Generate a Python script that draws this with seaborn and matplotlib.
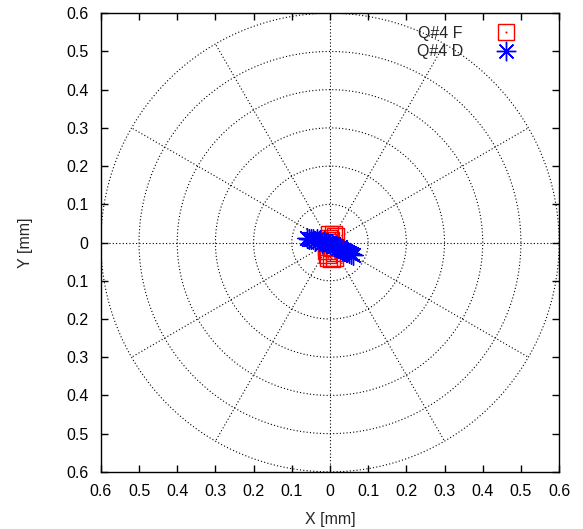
import numpy as np
import pandas as pd
import matplotlib
matplotlib.use("Agg")
import matplotlib.pyplot as plt
from matplotlib.legend_handler import HandlerTuple
import seaborn as sns

# ---- data (mm) ----
f_x = [0.000, 0.008, 0.014, -0.004, -0.007, -0.008, -0.008, -0.007, -0.004, 0.004, 0.013, 0.012, 0.006, 0.002]
f_y = [0.020, 0.021, 0.016, 0.010, 0.000, -0.010, -0.020, -0.030, -0.040, -0.042, -0.040, -0.026, -0.012, 0.005]
d_x = [-0.060, -0.055, -0.050, -0.045, -0.040, -0.035, -0.030, -0.025, -0.020, -0.015, -0.010, -0.005,
       0.000, 0.005, 0.010, 0.015, 0.020, 0.025, 0.030, 0.035, 0.040, 0.045, 0.050, 0.055, 0.060]
d_y = [0.012, 0.009, 0.008, 0.010, 0.005, 0.008, 0.004, 0.006, 0.000, 0.003, -0.002, 0.000,
       -0.005, -0.003, -0.010, -0.008, -0.014, -0.012, -0.018, -0.020, -0.022, -0.025, -0.028, -0.030, -0.033]
ring_radii = [0.1, 0.2, 0.3, 0.4, 0.5, 0.6]
spoke_angles_deg = [0, 30, 60, 90, 120, 150, 180, 210, 240, 270, 300, 330]
tick_values = [-0.6, -0.5, -0.4, -0.3, -0.2, -0.1, 0.0, 0.1, 0.2, 0.3, 0.4, 0.5, 0.6]
tick_labels = ["0.6", "0.5", "0.4", "0.3", "0.2", "0.1", "0", "0.1", "0.2", "0.3", "0.4", "0.5", "0.6"]
series_names = ["Q#4 F", "Q#4 D"]

sns.set_style("ticks")
plt.rcParams['font.family'] = ['Liberation Sans', 'DejaVu Sans']
FS = 11.5

fig = plt.figure(figsize=(5.83, 5.29), dpi=100)
ax = fig.add_axes([0.173, 0.108, 0.786, 0.867])

# polar grid
theta = np.linspace(0, 2 * np.pi, 400)
grid_kw = dict(color="black", lw=0.8, ls=(0, (1, 2)), zorder=1)
for r in ring_radii:
    ax.plot(r * np.cos(theta), r * np.sin(theta), **grid_kw)
for a in spoke_angles_deg:
    t = np.deg2rad(a)
    ax.plot([0, ring_radii[-1] * np.cos(t)], [0, ring_radii[-1] * np.sin(t)], **grid_kw)

df_f = pd.DataFrame({"x": f_x, "y": f_y})
df_d = pd.DataFrame({"x": d_x, "y": d_y})

sns.scatterplot(data=df_f, x="x", y="y", ax=ax, marker="s", s=150,
                facecolor="none", edgecolor="red", linewidth=1.0, zorder=3,
                legend=False)
sns.scatterplot(data=df_f, x="x", y="y", ax=ax, marker="o", s=2,
                color="red", edgecolor="none", zorder=3, legend=False)
sns.scatterplot(data=df_d, x="x", y="y", ax=ax, marker=(8, 2, 0), s=200,
                color="blue", edgecolor="blue", linewidth=1.0, zorder=4,
                legend=False)

ax.set_xlim(-0.6, 0.6)
ax.set_ylim(-0.6, 0.6)
ax.set_xticks(tick_values)
ax.set_xticklabels(tick_labels)
ax.set_yticks(tick_values)
ax.set_yticklabels(tick_labels)
ax.tick_params(direction="in", length=5, width=1, top=True, right=True,
               labelsize=FS, pad=9, colors="black")
for sp in ax.spines.values():
    sp.set_linewidth(1.0)
    sp.set_color("black")
ax.set_xlabel("X [mm]", fontsize=FS, labelpad=9)
ax.set_ylabel("Y [mm]", fontsize=FS, labelpad=24)

h_sq = plt.Line2D([], [], ls="none", marker="s", markersize=12,
                  markerfacecolor="none", markeredgecolor="red", markeredgewidth=1.0)
h_dot = plt.Line2D([], [], ls="none", marker="o", markersize=1.5,
                   markerfacecolor="red", markeredgecolor="none")
h_ast = plt.Line2D([], [], ls="none", marker=(8, 2, 0), markersize=14,
                   color="blue", markeredgewidth=1.0)
leg = ax.legend([(h_sq, h_dot), h_ast], series_names,
                handler_map={tuple: HandlerTuple(ndivide=1, pad=0)},
                loc="upper right", markerfirst=False, frameon=False,
                fontsize=FS, handletextpad=1.7, borderaxespad=0.0,
                labelspacing=0.2, bbox_to_anchor=(0.933, 0.986))

fig.savefig("out.png", dpi=100)
